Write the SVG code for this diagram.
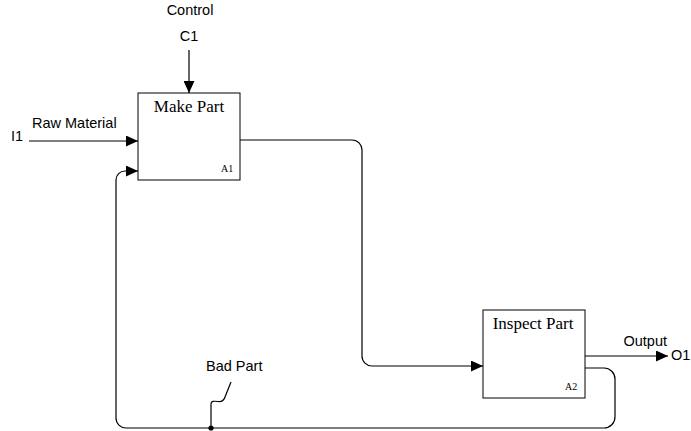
<svg xmlns="http://www.w3.org/2000/svg" width="691" height="431" viewBox="0 0 691 431">
<defs>
<marker id="arr" viewBox="0 0 12 11" refX="12" refY="5.5" markerWidth="12" markerHeight="11" markerUnits="userSpaceOnUse" orient="auto">
<path d="M0,0 L12,5.5 L0,11 Z" fill="#000"/>
</marker>
</defs>
<style>
.box{fill:#fff;stroke:#000;stroke-width:1}
.ttl{font-family:"Liberation Serif","Times New Roman",serif;font-size:17px;fill:#000;text-anchor:middle}
.num{font-family:"Liberation Serif","Times New Roman",serif;font-size:10px;fill:#000}
.lbl{font-family:"Liberation Sans",Arial,sans-serif;font-size:14.5px;fill:#000}
.ln{fill:none;stroke:#000;stroke-width:1.2}
</style>
<rect width="691" height="431" fill="#fff"/>
<g id="connectors">
<path class="ln" d="M189,50 V93" marker-end="url(#arr)"/>
<path class="ln" d="M29,141 H138" marker-end="url(#arr)"/>
<path class="ln" d="M240,140 H352 A10,10 0 0 1 362,150 V356 A10,10 0 0 0 372,366 H483" marker-end="url(#arr)"/>
<path class="ln" d="M585,356 H668" marker-end="url(#arr)"/>
<path class="ln" d="M585,368 H604 A11,11 0 0 1 615,379 V417 A11,11 0 0 1 604,428 H126 A10,10 0 0 1 116,418 V180 A9,9 0 0 1 125,171 H138" marker-end="url(#arr)"/>
<path class="ln" d="M211,428 V404 C211,401 214,401 218,401.5 C222,402 224,400.5 225,397 L231,382"/>
<circle cx="211" cy="428" r="2.6" fill="#000"/>
<text class="lbl" x="190" y="15" text-anchor="middle">Control</text>
<text class="lbl" x="189" y="40.5" text-anchor="middle">C1</text>
<text class="lbl" x="11" y="140.5">I1</text>
<text class="lbl" x="32" y="127.5">Raw Material</text>
<text class="lbl" x="623.5" y="345.5">Output</text>
<text class="lbl" x="671" y="360">O1</text>
<text class="lbl" x="206" y="371">Bad Part</text>
</g>
<g id="A1">
<rect class="box" x="138" y="93" width="102" height="87"/>
<text class="ttl" x="189" y="112">Make Part</text>
<text class="num" x="221" y="172">A1</text>
</g>
<g id="A2">
<rect class="box" x="483" y="310" width="102" height="88"/>
<text class="ttl" x="533" y="329">Inspect Part</text>
<text class="num" x="565" y="390">A2</text>
</g>
</svg>
